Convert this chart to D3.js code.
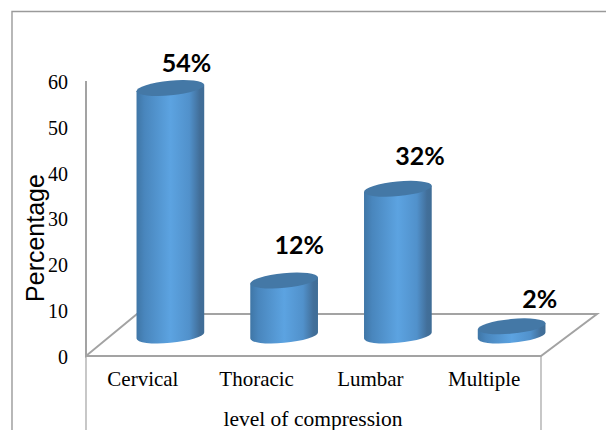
<!DOCTYPE html>
<html>
<head>
<meta charset="utf-8">
<style>
html,body{margin:0;padding:0;background:#fff;}
svg{display:block;}
</style>
<script src="https://cdn.jsdelivr.net/npm/d3@7"></script>
</head>
<body>
<svg id="chart" width="606" height="430"></svg>
<script>
const categories = ["Cervical", "Thoracic", "Lumbar", "Multiple"];
const percentages = [54, 12, 32, 2];
const yTicks = [0, 10, 20, 30, 40, 50, 60];
const yTitle = "Percentage";
const xTitle = "level of compression";

const W = 606, H = 430;
const svg = d3.select("#chart");
const serif = "'Liberation Serif','Times New Roman',serif";

// Front edge of the floor and the vertical scale
const x = d3.scaleBand().domain(categories).range([86, 541]);
const y = d3.scaleLinear().domain([0, 60]).range([356, 81]);

// Oblique projection: the floor recedes up and to the right
const depthX = 27.5, depthY = 20.5;
const backX = 51, backY = 42;
const rx = 34, ry = 7.3, tilt = -5.5;

const grid = "#a3a3a3";

// Outer frame, open at the bottom and right
svg.append("path")
  .attr("d", `M12,${H} V11.5 H${W}`)
  .attr("fill", "none").attr("stroke", "#9a9a9a").attr("stroke-width", 1.4);

// Axis wall, floor and category box
const [x0, x1] = x.range();
const base = y(0);
svg.append("path")
  .attr("d", `M${x0},${y(60)} V${base} L${x0 + backX},${base - backY} H${x1 + 56} L${x1},${base} H${x0}`)
  .attr("fill", "none").attr("stroke", grid).attr("stroke-width", 2);
svg.append("path")
  .attr("d", `M${x0},${base} V${H} M${x1},${base} V${H}`)
  .attr("fill", "none").attr("stroke", grid).attr("stroke-width", 1.2);

// Cylinder shading
const defs = svg.append("defs");
const grad = defs.append("linearGradient").attr("id", "cyl")
  .attr("x1", 0).attr("x2", 1).attr("y1", 0).attr("y2", 0);
[[0, "#3f76a6"], [0.12, "#4986bd"], [0.5, "#5ca3e1"], [0.78, "#5191cb"], [0.93, "#426f9a"], [1, "#3f6d96"]]
  .forEach(([o, c]) => grad.append("stop").attr("offset", o).attr("stop-color", c));

// Horizontal extent of the tilted ellipse gives the cylinder's silhouette
const th = tilt * Math.PI / 180;
const t0 = Math.atan2(-ry * Math.sin(th), rx * Math.cos(th));
const ex = rx * Math.cos(t0) * Math.cos(th) - ry * Math.sin(t0) * Math.sin(th);
const ey = rx * Math.cos(t0) * Math.sin(th) + ry * Math.sin(t0) * Math.cos(th);

const bars = svg.append("g").selectAll("g")
  .data(categories.map((c, i) => ({ c, v: percentages[i] })))
  .join("g")
  .attr("transform", d => `translate(${x(d.c) + x.bandwidth() / 2 + depthX},0)`);

const barBase = y(0) - depthY;
const barTop = d => barBase - (y(0) - y(d.v));

bars.append("path")
  .attr("fill", "url(#cyl)")
  .attr("d", d => `M${-ex},${barTop(d) - ey} L${-ex},${barBase - ey}
    A${rx},${ry} ${tilt} 0 0 ${ex},${barBase + ey}
    L${ex},${barTop(d) + ey} Z`);

bars.append("ellipse")
  .attr("rx", rx).attr("ry", ry)
  .attr("transform", d => `translate(0,${barTop(d)}) rotate(${tilt})`)
  .attr("fill", "#4478a6");

// Value labels sit above each cylinder, hand-placed per category
const labelNudge = {
  Cervical: [16, -16],
  Thoracic: [15, -26.5],
  Lumbar: [22, -24],
  Multiple: [28, -18]
};
bars.append("text")
  .attr("x", d => labelNudge[d.c][0])
  .attr("y", d => barTop(d) + labelNudge[d.c][1])
  .attr("text-anchor", "middle")
  .attr("font-family", "Lato, 'Open Sans', sans-serif")
  .attr("font-weight", 700)
  .attr("font-size", 25)
  .attr("fill", "#000")
  .text(d => d.v + "%");

// Value axis labels
const yAxis = d3.axisLeft(y).tickValues(yTicks).tickSize(0).tickPadding(0);
const yg = svg.append("g").attr("transform", "translate(68,1)").call(yAxis);
yg.select(".domain").remove();
yg.selectAll("text")
  .attr("font-family", serif).attr("font-size", 20).attr("fill", "#000");

// Category labels
const xAxis = d3.axisBottom(x).tickSize(0).tickPadding(0);
const xg = svg.append("g").attr("transform", "translate(0,371)").call(xAxis);
xg.select(".domain").remove();
xg.selectAll("text")
  .attr("font-family", serif).attr("font-size", 21).attr("fill", "#000");

// Axis titles
svg.append("text")
  .attr("transform", "translate(44,238) rotate(-90)")
  .attr("text-anchor", "middle")
  .attr("font-family", "'Liberation Sans',Arial,sans-serif")
  .attr("font-size", 25)
  .text(yTitle);

svg.append("text")
  .attr("x", 313).attr("y", 426)
  .attr("text-anchor", "middle")
  .attr("font-family", serif)
  .attr("font-size", 21.5)
  .text(xTitle);
</script>
</body>
</html>
